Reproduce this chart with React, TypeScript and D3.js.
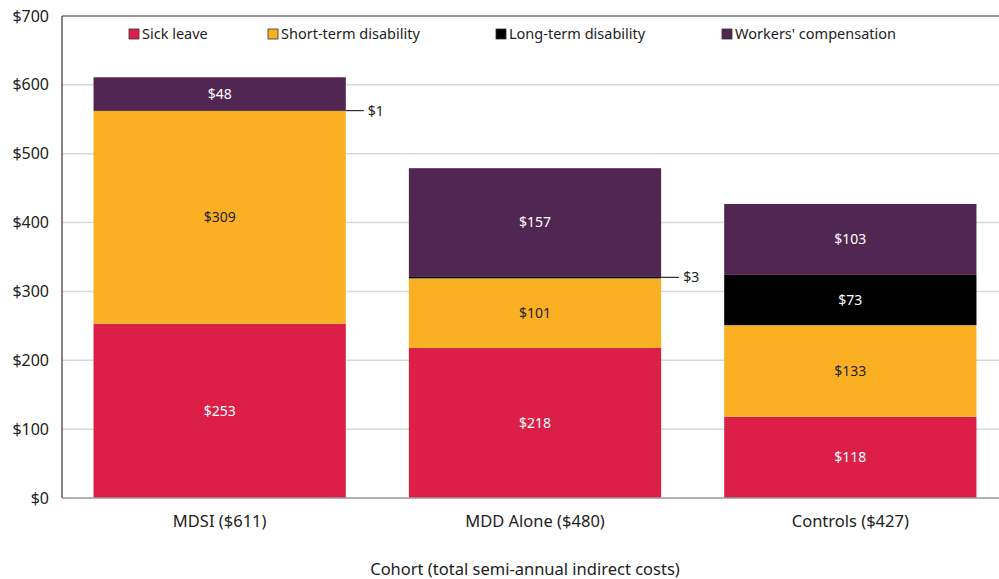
import { useEffect, useRef } from 'react';
import * as d3 from 'd3';

const cohorts = ['MDSI ($611)', 'MDD Alone ($480)', 'Controls ($427)'];
const seriesNames = ['Sick leave', 'Short-term disability', 'Long-term disability', "Workers' compensation"];
const seriesColors = ['#dc1f47', '#fbb024', '#000000', '#522652'];
const sickLeave = [253, 218, 118];
const shortTerm = [309, 101, 133];
const longTerm = [1, 3, 73];
const workersComp = [48, 157, 103];
const yTicks = [0, 100, 200, 300, 400, 500, 600, 700];

const width = 999;
const height = 579;
const FONT = '"Noto Sans", "Open Sans", sans-serif';

export default function App() {
  const svgRef = useRef<SVGSVGElement>(null);

  useEffect(() => {
    document.body.style.margin = '0';
    if (!svgRef.current) return;
    const svg = d3.select(svgRef.current);
    svg.selectAll('*').remove();

    const margin = { top: 16, left: 62, bottom: 81 };
    const y = d3.scaleLinear().domain([0, 700]).range([height - margin.bottom, margin.top]);
    const x = d3.scaleBand().domain(cohorts).range([margin.left, 1008]).paddingInner(0.2).paddingOuter(0.1);

    const values = [sickLeave, shortTerm, longTerm, workersComp];
    const rows = cohorts.map((c, i) => {
      const r: any = { cohort: c };
      seriesNames.forEach((s, j) => (r[s] = values[j][i]));
      return r;
    });
    const stacked = d3.stack<any>().keys(seriesNames)(rows);

    // gridlines
    svg.append('g')
      .selectAll('line')
      .data(yTicks.filter(t => t > 0 && t < 700))
      .enter().append('line')
      .attr('x1', margin.left).attr('x2', width)
      .attr('y1', d => y(d)).attr('y2', d => y(d))
      .attr('stroke', '#d9d9d9').attr('stroke-width', 1.5);

    // frame
    svg.append('line').attr('x1', margin.left).attr('x2', width).attr('y1', y(700)).attr('y2', y(700))
      .attr('stroke', '#333').attr('stroke-width', 1.2);
    svg.append('line').attr('x1', margin.left).attr('x2', margin.left).attr('y1', y(700)).attr('y2', y(0))
      .attr('stroke', '#333').attr('stroke-width', 1.2);

    // bars
    stacked.forEach((layer, j) => {
      svg.append('g')
        .selectAll('rect')
        .data(layer)
        .enter().append('rect')
        .attr('x', d => x(d.data.cohort) as number)
        .attr('width', x.bandwidth())
        .attr('y', d => y(d[1]))
        .attr('height', d => y(d[0]) - y(d[1]))
        .attr('fill', seriesColors[j]);
    });

    // x axis line
    svg.append('line').attr('x1', margin.left).attr('x2', width).attr('y1', y(0)).attr('y2', y(0))
      .attr('stroke', '#999').attr('stroke-width', 1.5);

    // segment labels
    stacked.forEach((layer, j) => {
      layer.forEach(d => {
        const v = d[1] - d[0];
        const cx = (x(d.data.cohort) as number) + x.bandwidth() / 2;
        const cy = (y(d[0]) + y(d[1])) / 2;
        if (v >= 10) {
          svg.append('text')
            .attr('x', cx).attr('y', cy).attr('dy', '0.35em')
            .attr('text-anchor', 'middle')
            .attr('font-family', FONT).attr('font-size', 14)
            .attr('fill', j === 1 ? '#222' : '#fff')
            .text(`$${v}`);
        } else {
          const x0 = (x(d.data.cohort) as number) + x.bandwidth();
          svg.append('line')
            .attr('x1', x0).attr('x2', x0 + 18)
            .attr('y1', cy).attr('y2', cy)
            .attr('stroke', '#000').attr('stroke-width', 1);
          svg.append('text')
            .attr('x', x0 + 22).attr('y', cy).attr('dy', '0.35em')
            .attr('font-family', FONT).attr('font-size', 14)
            .attr('fill', '#222')
            .text(`$${v}`);
        }
      });
    });

    // y tick labels
    svg.append('g')
      .selectAll('text')
      .data(yTicks)
      .enter().append('text')
      .attr('x', 49).attr('y', d => y(d)).attr('dy', '0.35em')
      .attr('text-anchor', 'end')
      .attr('font-family', FONT).attr('font-size', 16)
      .attr('fill', '#222')
      .text(d => `$${d}`);

    // x tick labels
    svg.append('g')
      .selectAll('text')
      .data(cohorts)
      .enter().append('text')
      .attr('x', d => (x(d) as number) + x.bandwidth() / 2)
      .attr('y', 521).attr('dy', '0.35em')
      .attr('text-anchor', 'middle')
      .attr('font-family', FONT).attr('font-size', 16.5)
      .attr('fill', '#222')
      .text(d => d);

    svg.append('text')
      .attr('x', 525).attr('y', 569).attr('dy', '0.35em')
      .attr('text-anchor', 'middle')
      .attr('font-family', FONT).attr('font-size', 16.5)
      .attr('fill', '#222')
      .text('Cohort (total semi-annual indirect costs)');

    // legend
    const legendX = [129, 268, 496, 722];
    seriesNames.forEach((s, j) => {
      const g = svg.append('g').attr('transform', `translate(${legendX[j]}, 34)`);
      g.append('rect').attr('x', 0).attr('y', -5).attr('width', 10).attr('height', 10)
        .attr('fill', seriesColors[j]).attr('stroke', '#333').attr('stroke-width', 0.8);
      g.append('text').attr('x', 13).attr('y', 0).attr('dy', '0.35em')
        .attr('font-family', FONT).attr('font-size', 14.5)
        .attr('fill', '#222')
        .text(s);
    });
  }, []);

  return <svg ref={svgRef} width={width} height={height} style={{ display: 'block' }} />;
}
